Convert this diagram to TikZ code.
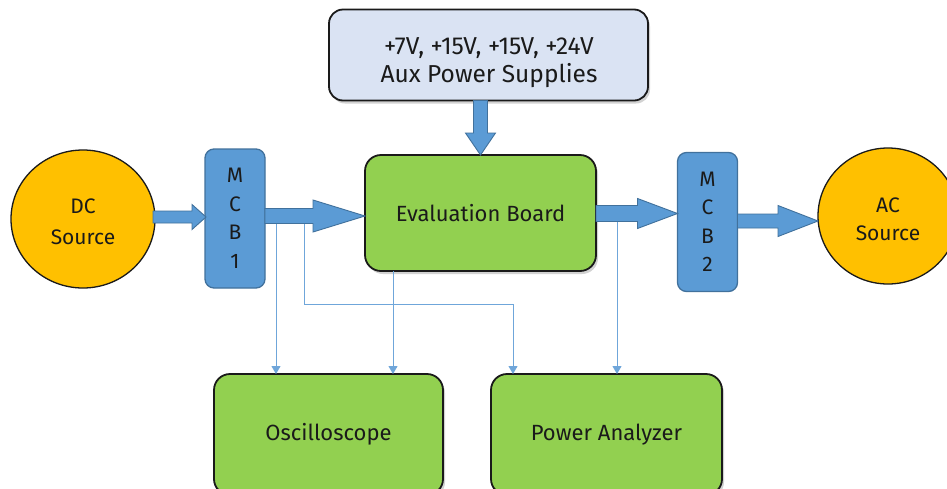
\documentclass[tikz,border=0pt]{standalone}
\usepackage{fontspec}
\setmainfont{Fira Sans}
\usetikzlibrary{shadows,arrows.meta,calc,shapes.geometric}

\definecolor{srcorange}{HTML}{FFC000}
\definecolor{boardgreen}{HTML}{92D050}
\definecolor{mcbblue}{HTML}{5B9BD5}
\definecolor{mcbedge}{HTML}{41719C}
\definecolor{auxfill}{HTML}{DAE3F3}
\definecolor{probeblue}{HTML}{6FA6DA}
\definecolor{ink}{HTML}{1A1A1A}

% horizontal block arrow: start, end, shaft half-height, head half-height, head length
\newcommand\fatarrowR[5]{%
  \filldraw[fatarrow] let \p1=(#1), \p2=(#2) in
    (\x1,\y1+#3) -- (\x2-#5,\y1+#3) -- (\x2-#5,\y1+#4) -- (\x2,\y1)
    -- (\x2-#5,\y1-#4) -- (\x2-#5,\y1-#3) -- (\x1,\y1-#3) -- cycle;}
% downward block arrow: start, end, shaft half-width, head half-width, head length
\newcommand\fatarrowD[5]{%
  \filldraw[fatarrow] let \p1=(#1), \p2=(#2) in
    (\x1-#3,\y1) -- (\x1-#3,\y2+#5) -- (\x1-#4,\y2+#5) -- (\x1,\y2)
    -- (\x1+#4,\y2+#5) -- (\x1+#3,\y2+#5) -- (\x1+#3,\y1) -- cycle;}
% taller first line, to sit the two-line labels a little lower
\newcommand\lowstrut{\rule{0pt}{20.5pt}}

\begin{document}
\begin{tikzpicture}[x=1pt,y=-1pt,
  every node/.style={font=\fontsize{22}{29}\selectfont, text=ink, inner sep=0pt, outer sep=0pt},
  source/.style={ellipse, fill=srcorange, draw=ink, line width=1.3pt, align=center},
  breaker/.style={rounded corners=9pt, fill=mcbblue, draw=mcbedge, line width=1.3pt,
    minimum width=60pt, minimum height=139pt, align=center,
    font=\fontsize{21}{28.5}\selectfont},
  unit/.style={rounded corners=16pt, fill=boardgreen, draw=ink, line width=1.8pt,
    drop shadow={opacity=0.35, shadow xshift=2pt, shadow yshift=-3pt}},
  auxbox/.style={rounded corners=14pt, fill=auxfill, draw=ink, line width=1.8pt,
    minimum width=319pt, minimum height=91pt,
    drop shadow={opacity=0.35, shadow xshift=2pt, shadow yshift=-3pt}},
  fatarrow/.style={fill=mcbblue, draw=mcbedge, line width=0.9pt, line join=miter},
  probe/.style={draw=probeblue, line width=0.9pt, -{Triangle[width=9pt,length=8pt]}}
]
\useasboundingbox (0,0) rectangle (947,488);
\clip (0,0) rectangle (947,488);
\fill[white] (0,0) rectangle (947,488);

% nodes
\node[source, minimum width=144pt, minimum height=138pt,
      font=\fontsize{21}{31}\selectfont] (dc) at (83,219) {\lowstrut DC\\Source};
\node[source, minimum width=140pt, minimum height=136pt,
      font=\fontsize{21}{28}\selectfont] (ac) at (888,216) {\lowstrut AC\\Source};
\node[breaker] (mcb1) at (235,218.5) {M\\C\\B\\1};
\node[breaker] (mcb2) at (707.5,222) {M\\C\\B\\2};
\node[unit, minimum width=231pt, minimum height=116pt] (eval) at (480.5,213) {Evaluation Board};
\node[auxbox] (aux) at (488.5,55) {};
\node[align=center, font=\fontsize{24.5}{28}\selectfont] (auxtext) at (489,62.5)
  {+7V, +15V, +15V, +24V\\Aux Power Supplies};
\node[unit, minimum width=229pt, minimum height=121pt] (scope) at (328.5,434.5) {Oscilloscope};
\node[unit, minimum width=231pt, minimum height=121pt] (pa) at (606.5,434.5) {Power Analyzer};

% measurement taps
\coordinate (tapA) at (276,224);
\coordinate (tapB) at (304,224);
\coordinate (bendB) at (304,304);
\coordinate (tapC) at (393,271);
\coordinate (tapD) at (617,221);
\coordinate (bendD) at (513,304);

\draw[probe] (tapA) -- (tapA |- scope.north);
\draw[probe] (tapC) -- (tapC |- scope.north);
\draw[probe] (tapB) -- (bendB) -- (bendD) -- (bendD |- pa.north);
\draw[probe] (tapD) -- (tapD |- pa.north);

% power flow arrows
\coordinate (lvl1) at (0,216);
\coordinate (lvl2) at (0,213.5);
\coordinate (lvl3) at (0,221);
\fatarrowR{$(dc.east)+(-2,-2)$}{$(mcb1.west)+(1,-1.5)$}{6pt}{12.5pt}{14pt}
\fatarrowR{mcb1.east |- lvl1}{eval.west |- lvl1}{7.5pt}{16pt}{52pt}
\fatarrowR{eval.east |- lvl2}{mcb2.west |- lvl2}{8pt}{15pt}{40pt}
\fatarrowR{mcb2.east |- lvl3}{ac.west |- lvl3}{7pt}{15.5pt}{40pt}
\fatarrowD{eval.north |- aux.south}{eval.north}{7pt}{15pt}{22pt}
\end{tikzpicture}
\end{document}
